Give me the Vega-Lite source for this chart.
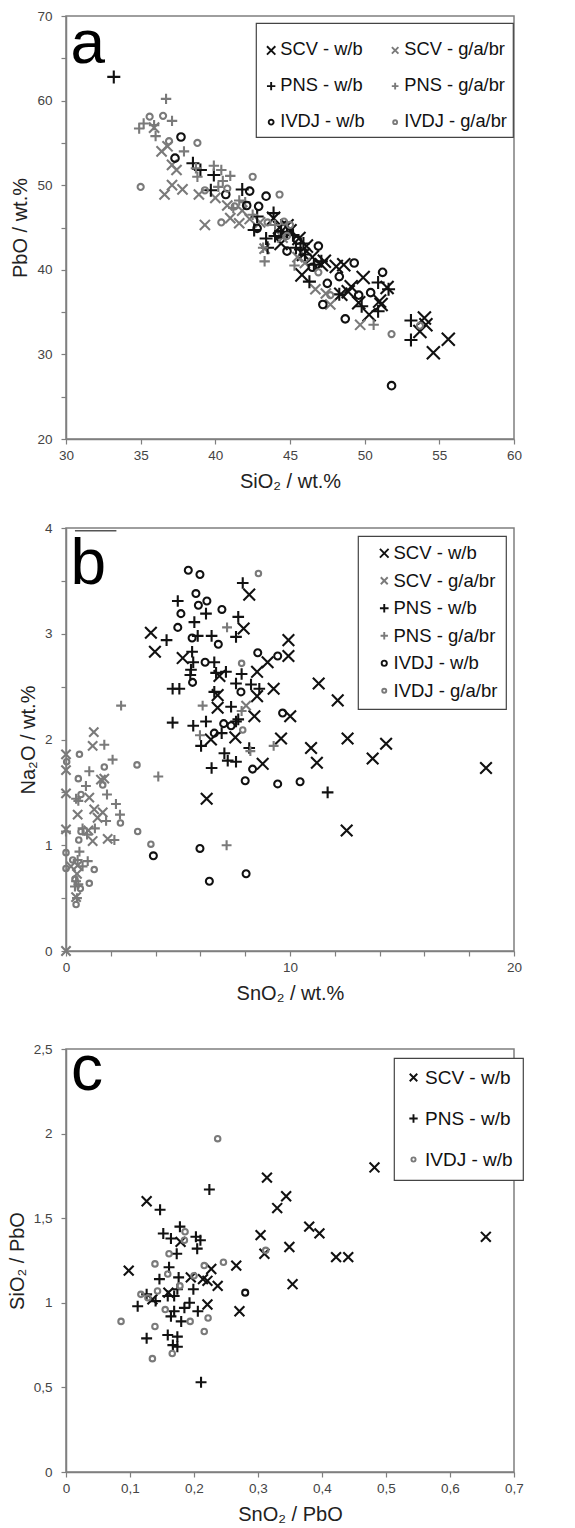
{
  "$schema": "https://vega.github.io/schema/vega-lite/v6.json",
  "padding": {"left": 6, "top": 8, "right": 5, "bottom": 5},
  "background": "white",
  "config": {
    "font": "Liberation Sans",
    "view": {"stroke": "#7f7f7f", "strokeWidth": 1.5},
    "axis": {"domainColor": "#7f7f7f", "domainWidth": 1.5, "tickColor": "#7f7f7f", "tickWidth": 1.2, "tickSize": 5, "labelFont": "Liberation Sans", "labelFontSize": 13.5, "labelColor": "#444", "titleFont": "Liberation Sans", "titleFontSize": 20, "titleFontWeight": "normal", "titleColor": "#222", "grid": false, "labelFlush": false, "labelOverlap": false, "labelBound": false},
    "axisX": {"labelPadding": 4, "titlePadding": 10},
    "axisY": {"labelPadding": 9, "titlePadding": 6},
    "legend": {"strokeWidth": 1.2, "labelFont": "Liberation Sans", "labelColor": "#111", "symbolStrokeWidth": 1.9, "strokeColor": "#444", "fillColor": "#ffffff"}
  },
  "datasets": {
    "a": [
      {"series":"SCV - w/b","SiO2":55.6,"PbO":31.8},{"series":"SCV - w/b","SiO2":54.6,"PbO":30.2},{"series":"SCV - w/b","SiO2":54.0,"PbO":34.3},{"series":"SCV - w/b","SiO2":53.7,"PbO":32.7},{"series":"SCV - w/b","SiO2":54.1,"PbO":33.5},{"series":"SCV - w/b","SiO2":51.5,"PbO":37.9},{"series":"SCV - w/b","SiO2":51.0,"PbO":36.3},{"series":"SCV - w/b","SiO2":51.1,"PbO":35.9},{"series":"SCV - w/b","SiO2":50.3,"PbO":34.7},{"series":"SCV - w/b","SiO2":49.9,"PbO":39.1},{"series":"SCV - w/b","SiO2":49.6,"PbO":36.1},{"series":"SCV - w/b","SiO2":49.1,"PbO":38.0},{"series":"SCV - w/b","SiO2":48.9,"PbO":37.4},{"series":"SCV - w/b","SiO2":48.6,"PbO":40.6},{"series":"SCV - w/b","SiO2":48.1,"PbO":40.4},{"series":"SCV - w/b","SiO2":48.4,"PbO":37.1},{"series":"SCV - w/b","SiO2":47.1,"PbO":40.6},{"series":"SCV - w/b","SiO2":45.8,"PbO":39.4},{"series":"SCV - w/b","SiO2":46.1,"PbO":42.8},{"series":"SCV - w/b","SiO2":45.6,"PbO":43.7},{"series":"SCV - w/b","SiO2":44.4,"PbO":43.1},{"series":"SCV - w/b","SiO2":43.9,"PbO":46.1},{"series":"SCV - w/b","SiO2":44.3,"PbO":45.0},{"series":"SCV - w/b","SiO2":45.0,"PbO":44.6},{"series":"SCV - w/b","SiO2":46.5,"PbO":41.5},{"series":"SCV - w/b","SiO2":47.3,"PbO":41.0},{"series":"SCV - w/b","SiO2":44.8,"PbO":45.2},{"series":"SCV - w/b","SiO2":45.9,"PbO":41.8},
      {"series":"SCV - g/a/br","SiO2":49.7,"PbO":33.5},{"series":"SCV - g/a/br","SiO2":47.7,"PbO":35.9},{"series":"SCV - g/a/br","SiO2":47.4,"PbO":37.2},{"series":"SCV - g/a/br","SiO2":46.7,"PbO":37.7},{"series":"SCV - g/a/br","SiO2":39.3,"PbO":45.3},{"series":"SCV - g/a/br","SiO2":41.0,"PbO":46.1},{"series":"SCV - g/a/br","SiO2":41.6,"PbO":45.5},{"series":"SCV - g/a/br","SiO2":36.4,"PbO":54.0},{"series":"SCV - g/a/br","SiO2":37.4,"PbO":51.8},{"series":"SCV - g/a/br","SiO2":36.8,"PbO":54.6},{"series":"SCV - g/a/br","SiO2":37.1,"PbO":52.4},{"series":"SCV - g/a/br","SiO2":36.6,"PbO":48.9},{"series":"SCV - g/a/br","SiO2":37.1,"PbO":50.0},{"series":"SCV - g/a/br","SiO2":37.8,"PbO":49.5},{"series":"SCV - g/a/br","SiO2":38.9,"PbO":48.9},{"series":"SCV - g/a/br","SiO2":40.0,"PbO":48.5},{"series":"SCV - g/a/br","SiO2":42.3,"PbO":46.0},{"series":"SCV - g/a/br","SiO2":43.0,"PbO":45.6},{"series":"SCV - g/a/br","SiO2":43.3,"PbO":42.5},{"series":"SCV - g/a/br","SiO2":44.5,"PbO":43.8},{"series":"SCV - g/a/br","SiO2":45.5,"PbO":41.5},{"series":"SCV - g/a/br","SiO2":35.9,"PbO":56.8},{"series":"SCV - g/a/br","SiO2":41.8,"PbO":47.0},{"series":"SCV - g/a/br","SiO2":40.8,"PbO":47.6},{"series":"SCV - g/a/br","SiO2":46.0,"PbO":40.8},
      {"series":"PNS - w/b","SiO2":33.2,"PbO":62.8},{"series":"PNS - w/b","SiO2":53.1,"PbO":34.0},{"series":"PNS - w/b","SiO2":53.1,"PbO":31.7},{"series":"PNS - w/b","SiO2":51.6,"PbO":37.7},{"series":"PNS - w/b","SiO2":50.9,"PbO":38.5},{"series":"PNS - w/b","SiO2":50.9,"PbO":35.1},{"series":"PNS - w/b","SiO2":49.8,"PbO":35.7},{"series":"PNS - w/b","SiO2":48.3,"PbO":37.1},{"series":"PNS - w/b","SiO2":46.3,"PbO":38.6},{"series":"PNS - w/b","SiO2":47.1,"PbO":41.0},{"series":"PNS - w/b","SiO2":46.6,"PbO":40.6},{"series":"PNS - w/b","SiO2":43.5,"PbO":42.6},{"series":"PNS - w/b","SiO2":43.4,"PbO":43.7},{"series":"PNS - w/b","SiO2":42.6,"PbO":44.7},{"series":"PNS - w/b","SiO2":43.9,"PbO":46.7},{"series":"PNS - w/b","SiO2":44.4,"PbO":44.5},{"series":"PNS - w/b","SiO2":44.8,"PbO":44.3},{"series":"PNS - w/b","SiO2":45.2,"PbO":44.1},{"series":"PNS - w/b","SiO2":45.9,"PbO":43.1},{"series":"PNS - w/b","SiO2":45.4,"PbO":42.6},{"series":"PNS - w/b","SiO2":45.7,"PbO":42.4},{"series":"PNS - w/b","SiO2":38.5,"PbO":52.6},{"series":"PNS - w/b","SiO2":39.0,"PbO":51.8},{"series":"PNS - w/b","SiO2":39.9,"PbO":51.2},{"series":"PNS - w/b","SiO2":39.7,"PbO":49.4},{"series":"PNS - w/b","SiO2":41.8,"PbO":49.5},{"series":"PNS - w/b","SiO2":44.0,"PbO":44.0},{"series":"PNS - w/b","SiO2":46.0,"PbO":41.8},{"series":"PNS - w/b","SiO2":42.8,"PbO":46.3},
      {"series":"PNS - g/a/br","SiO2":36.7,"PbO":60.2},{"series":"PNS - g/a/br","SiO2":35.2,"PbO":57.3},{"series":"PNS - g/a/br","SiO2":34.9,"PbO":56.7},{"series":"PNS - g/a/br","SiO2":35.9,"PbO":57.1},{"series":"PNS - g/a/br","SiO2":36.0,"PbO":55.8},{"series":"PNS - g/a/br","SiO2":37.1,"PbO":57.6},{"series":"PNS - g/a/br","SiO2":37.9,"PbO":54.0},{"series":"PNS - g/a/br","SiO2":38.7,"PbO":52.0},{"series":"PNS - g/a/br","SiO2":38.8,"PbO":51.0},{"series":"PNS - g/a/br","SiO2":39.9,"PbO":52.3},{"series":"PNS - g/a/br","SiO2":40.4,"PbO":51.8},{"series":"PNS - g/a/br","SiO2":41.0,"PbO":51.1},{"series":"PNS - g/a/br","SiO2":41.2,"PbO":47.3},{"series":"PNS - g/a/br","SiO2":43.3,"PbO":41.0},{"series":"PNS - g/a/br","SiO2":43.2,"PbO":42.6},{"series":"PNS - g/a/br","SiO2":45.3,"PbO":40.5},{"series":"PNS - g/a/br","SiO2":50.6,"PbO":33.5},{"series":"PNS - g/a/br","SiO2":40.5,"PbO":50.5},{"series":"PNS - g/a/br","SiO2":42.0,"PbO":48.0},{"series":"PNS - g/a/br","SiO2":42.5,"PbO":46.5},{"series":"PNS - g/a/br","SiO2":41.6,"PbO":48.2},{"series":"PNS - g/a/br","SiO2":44.0,"PbO":45.3},{"series":"PNS - g/a/br","SiO2":40.2,"PbO":49.8},
      {"series":"IVDJ - w/b","SiO2":51.8,"PbO":26.3},{"series":"IVDJ - w/b","SiO2":51.2,"PbO":39.7},{"series":"IVDJ - w/b","SiO2":50.4,"PbO":37.3},{"series":"IVDJ - w/b","SiO2":49.6,"PbO":37.0},{"series":"IVDJ - w/b","SiO2":49.3,"PbO":40.8},{"series":"IVDJ - w/b","SiO2":48.7,"PbO":34.2},{"series":"IVDJ - w/b","SiO2":48.3,"PbO":39.2},{"series":"IVDJ - w/b","SiO2":47.2,"PbO":35.9},{"series":"IVDJ - w/b","SiO2":47.5,"PbO":38.4},{"series":"IVDJ - w/b","SiO2":46.9,"PbO":42.8},{"series":"IVDJ - w/b","SiO2":46.5,"PbO":40.3},{"series":"IVDJ - w/b","SiO2":44.8,"PbO":42.2},{"series":"IVDJ - w/b","SiO2":42.8,"PbO":44.9},{"series":"IVDJ - w/b","SiO2":42.9,"PbO":47.5},{"series":"IVDJ - w/b","SiO2":42.1,"PbO":47.6},{"series":"IVDJ - w/b","SiO2":37.7,"PbO":55.7},{"series":"IVDJ - w/b","SiO2":37.3,"PbO":53.2},{"series":"IVDJ - w/b","SiO2":42.3,"PbO":49.3},{"series":"IVDJ - w/b","SiO2":40.7,"PbO":48.9},{"series":"IVDJ - w/b","SiO2":43.4,"PbO":48.7},{"series":"IVDJ - w/b","SiO2":45.5,"PbO":43.5},{"series":"IVDJ - w/b","SiO2":44.2,"PbO":44.2},
      {"series":"IVDJ - g/a/br","SiO2":53.7,"PbO":33.4},{"series":"IVDJ - g/a/br","SiO2":51.8,"PbO":32.4},{"series":"IVDJ - g/a/br","SiO2":46.9,"PbO":39.7},{"series":"IVDJ - g/a/br","SiO2":40.4,"PbO":45.6},{"series":"IVDJ - g/a/br","SiO2":44.6,"PbO":45.7},{"series":"IVDJ - g/a/br","SiO2":35.6,"PbO":58.1},{"series":"IVDJ - g/a/br","SiO2":36.5,"PbO":58.2},{"series":"IVDJ - g/a/br","SiO2":36.9,"PbO":55.2},{"series":"IVDJ - g/a/br","SiO2":38.8,"PbO":55.0},{"series":"IVDJ - g/a/br","SiO2":35.0,"PbO":49.8},{"series":"IVDJ - g/a/br","SiO2":42.5,"PbO":51.0},{"series":"IVDJ - g/a/br","SiO2":39.3,"PbO":49.4},{"series":"IVDJ - g/a/br","SiO2":40.8,"PbO":49.6},{"series":"IVDJ - g/a/br","SiO2":44.3,"PbO":48.9},{"series":"IVDJ - g/a/br","SiO2":43.5,"PbO":45.6},{"series":"IVDJ - g/a/br","SiO2":45.0,"PbO":45.3},{"series":"IVDJ - g/a/br","SiO2":44.8,"PbO":44.0},{"series":"IVDJ - g/a/br","SiO2":41.3,"PbO":47.5},{"series":"IVDJ - g/a/br","SiO2":47.7,"PbO":37.0}
    ],
    "b": [
      {"series":"SCV - w/b","SnO2":8.18,"Na2O":3.37},{"series":"SCV - w/b","SnO2":7.93,"Na2O":3.05},{"series":"SCV - w/b","SnO2":3.79,"Na2O":3.01},{"series":"SCV - w/b","SnO2":3.97,"Na2O":2.83},{"series":"SCV - w/b","SnO2":9.93,"Na2O":2.94},{"series":"SCV - w/b","SnO2":9.93,"Na2O":2.79},{"series":"SCV - w/b","SnO2":9.0,"Na2O":2.73},{"series":"SCV - w/b","SnO2":5.21,"Na2O":2.77},{"series":"SCV - w/b","SnO2":8.53,"Na2O":2.64},{"series":"SCV - w/b","SnO2":6.85,"Na2O":2.6},{"series":"SCV - w/b","SnO2":9.27,"Na2O":2.48},{"series":"SCV - w/b","SnO2":8.53,"Na2O":2.41},{"series":"SCV - w/b","SnO2":6.77,"Na2O":2.42},{"series":"SCV - w/b","SnO2":11.28,"Na2O":2.53},{"series":"SCV - w/b","SnO2":12.13,"Na2O":2.37},{"series":"SCV - w/b","SnO2":6.77,"Na2O":2.3},{"series":"SCV - w/b","SnO2":10.01,"Na2O":2.22},{"series":"SCV - w/b","SnO2":8.41,"Na2O":2.22},{"series":"SCV - w/b","SnO2":6.47,"Na2O":2.0},{"series":"SCV - w/b","SnO2":7.56,"Na2O":2.02},{"series":"SCV - w/b","SnO2":9.6,"Na2O":2.01},{"series":"SCV - w/b","SnO2":12.57,"Na2O":2.01},{"series":"SCV - w/b","SnO2":14.29,"Na2O":1.96},{"series":"SCV - w/b","SnO2":10.94,"Na2O":1.92},{"series":"SCV - w/b","SnO2":18.75,"Na2O":1.73},{"series":"SCV - w/b","SnO2":13.69,"Na2O":1.82},{"series":"SCV - w/b","SnO2":11.2,"Na2O":1.78},{"series":"SCV - w/b","SnO2":8.78,"Na2O":1.77},{"series":"SCV - w/b","SnO2":6.28,"Na2O":1.44},{"series":"SCV - w/b","SnO2":12.53,"Na2O":1.14},
      {"series":"SCV - g/a/br","SnO2":8.04,"Na2O":2.32},{"series":"SCV - g/a/br","SnO2":1.24,"Na2O":2.07},{"series":"SCV - g/a/br","SnO2":1.19,"Na2O":1.94},{"series":"SCV - g/a/br","SnO2":1.56,"Na2O":1.62},{"series":"SCV - g/a/br","SnO2":1.71,"Na2O":1.63},{"series":"SCV - g/a/br","SnO2":1.41,"Na2O":1.26},{"series":"SCV - g/a/br","SnO2":1.26,"Na2O":1.34},{"series":"SCV - g/a/br","SnO2":1.19,"Na2O":1.04},{"series":"SCV - g/a/br","SnO2":1.04,"Na2O":1.45},{"series":"SCV - g/a/br","SnO2":0.52,"Na2O":1.29},{"series":"SCV - g/a/br","SnO2":1.0,"Na2O":1.14},{"series":"SCV - g/a/br","SnO2":1.86,"Na2O":1.06},{"series":"SCV - g/a/br","SnO2":0,"Na2O":1.86},{"series":"SCV - g/a/br","SnO2":0,"Na2O":1.71},{"series":"SCV - g/a/br","SnO2":0,"Na2O":1.49},{"series":"SCV - g/a/br","SnO2":0,"Na2O":1.15},{"series":"SCV - g/a/br","SnO2":0,"Na2O":0},{"series":"SCV - g/a/br","SnO2":0.52,"Na2O":0.81},{"series":"SCV - g/a/br","SnO2":0.22,"Na2O":0.8},{"series":"SCV - g/a/br","SnO2":0.49,"Na2O":0.73},{"series":"SCV - g/a/br","SnO2":0.45,"Na2O":0.51},{"series":"SCV - g/a/br","SnO2":1.64,"Na2O":1.31},
      {"series":"PNS - w/b","SnO2":7.89,"Na2O":3.48},{"series":"PNS - w/b","SnO2":4.99,"Na2O":3.31},{"series":"PNS - w/b","SnO2":6.25,"Na2O":3.19},{"series":"PNS - w/b","SnO2":7.69,"Na2O":3.16},{"series":"PNS - w/b","SnO2":5.73,"Na2O":3.11},{"series":"PNS - w/b","SnO2":4.49,"Na2O":2.94},{"series":"PNS - w/b","SnO2":5.88,"Na2O":2.98},{"series":"PNS - w/b","SnO2":6.5,"Na2O":2.98},{"series":"PNS - w/b","SnO2":7.59,"Na2O":2.97},{"series":"PNS - w/b","SnO2":5.63,"Na2O":2.83},{"series":"PNS - w/b","SnO2":6.62,"Na2O":2.73},{"series":"PNS - w/b","SnO2":5.68,"Na2O":2.73},{"series":"PNS - w/b","SnO2":5.58,"Na2O":2.66},{"series":"PNS - w/b","SnO2":5.55,"Na2O":2.61},{"series":"PNS - w/b","SnO2":6.7,"Na2O":2.63},{"series":"PNS - w/b","SnO2":7.14,"Na2O":2.64},{"series":"PNS - w/b","SnO2":7.84,"Na2O":2.62},{"series":"PNS - w/b","SnO2":4.76,"Na2O":2.48},{"series":"PNS - w/b","SnO2":5.06,"Na2O":2.48},{"series":"PNS - w/b","SnO2":6.62,"Na2O":2.45},{"series":"PNS - w/b","SnO2":7.59,"Na2O":2.53},{"series":"PNS - w/b","SnO2":8.26,"Na2O":2.52},{"series":"PNS - w/b","SnO2":8.63,"Na2O":2.48},{"series":"PNS - w/b","SnO2":7.37,"Na2O":2.31},{"series":"PNS - w/b","SnO2":4.76,"Na2O":2.16},{"series":"PNS - w/b","SnO2":5.68,"Na2O":2.13},{"series":"PNS - w/b","SnO2":6.25,"Na2O":2.17},{"series":"PNS - w/b","SnO2":7.59,"Na2O":2.17},{"series":"PNS - w/b","SnO2":7.69,"Na2O":2.19},{"series":"PNS - w/b","SnO2":6.95,"Na2O":2.06},{"series":"PNS - w/b","SnO2":8.18,"Na2O":1.92},{"series":"PNS - w/b","SnO2":6.03,"Na2O":1.94},{"series":"PNS - w/b","SnO2":7.59,"Na2O":1.79},{"series":"PNS - w/b","SnO2":7.22,"Na2O":1.8},{"series":"PNS - w/b","SnO2":7.07,"Na2O":1.87},{"series":"PNS - w/b","SnO2":6.5,"Na2O":1.73},{"series":"PNS - w/b","SnO2":11.68,"Na2O":1.5},
      {"series":"PNS - g/a/br","SnO2":7.19,"Na2O":3.06},{"series":"PNS - g/a/br","SnO2":6.1,"Na2O":2.32},{"series":"PNS - g/a/br","SnO2":7.84,"Na2O":2.27},{"series":"PNS - g/a/br","SnO2":2.46,"Na2O":2.32},{"series":"PNS - g/a/br","SnO2":5.98,"Na2O":2.04},{"series":"PNS - g/a/br","SnO2":9.27,"Na2O":1.94},{"series":"PNS - g/a/br","SnO2":1.71,"Na2O":1.95},{"series":"PNS - g/a/br","SnO2":8.23,"Na2O":1.89},{"series":"PNS - g/a/br","SnO2":7.17,"Na2O":1.0},{"series":"PNS - g/a/br","SnO2":4.12,"Na2O":1.65},{"series":"PNS - g/a/br","SnO2":2.41,"Na2O":1.29},{"series":"PNS - g/a/br","SnO2":2.23,"Na2O":1.39},{"series":"PNS - g/a/br","SnO2":2.16,"Na2O":1.05},{"series":"PNS - g/a/br","SnO2":2.08,"Na2O":1.81},{"series":"PNS - g/a/br","SnO2":1.83,"Na2O":1.48},{"series":"PNS - g/a/br","SnO2":1.79,"Na2O":1.23},{"series":"PNS - g/a/br","SnO2":1.29,"Na2O":1.16},{"series":"PNS - g/a/br","SnO2":1.04,"Na2O":1.7},{"series":"PNS - g/a/br","SnO2":0.89,"Na2O":1.56},{"series":"PNS - g/a/br","SnO2":0.55,"Na2O":1.42},{"series":"PNS - g/a/br","SnO2":0.45,"Na2O":1.44},{"series":"PNS - g/a/br","SnO2":0.74,"Na2O":1.16},{"series":"PNS - g/a/br","SnO2":0.94,"Na2O":1.1},{"series":"PNS - g/a/br","SnO2":0.6,"Na2O":0.94},{"series":"PNS - g/a/br","SnO2":0.52,"Na2O":0.86},{"series":"PNS - g/a/br","SnO2":0.97,"Na2O":0.85},{"series":"PNS - g/a/br","SnO2":0.74,"Na2O":0.8},{"series":"PNS - g/a/br","SnO2":0.45,"Na2O":0.66},{"series":"PNS - g/a/br","SnO2":0.55,"Na2O":0.63},{"series":"PNS - g/a/br","SnO2":0.49,"Na2O":0.5},{"series":"PNS - g/a/br","SnO2":0.4,"Na2O":0.61},{"series":"PNS - g/a/br","SnO2":0,"Na2O":1.13},
      {"series":"IVDJ - w/b","SnO2":5.46,"Na2O":3.6},{"series":"IVDJ - w/b","SnO2":5.98,"Na2O":3.56},{"series":"IVDJ - w/b","SnO2":5.8,"Na2O":3.38},{"series":"IVDJ - w/b","SnO2":5.91,"Na2O":3.27},{"series":"IVDJ - w/b","SnO2":6.29,"Na2O":3.31},{"series":"IVDJ - w/b","SnO2":5.13,"Na2O":3.19},{"series":"IVDJ - w/b","SnO2":6.96,"Na2O":3.23},{"series":"IVDJ - w/b","SnO2":4.99,"Na2O":3.06},{"series":"IVDJ - w/b","SnO2":6.8,"Na2O":2.9},{"series":"IVDJ - w/b","SnO2":5.63,"Na2O":2.96},{"series":"IVDJ - w/b","SnO2":9.45,"Na2O":2.79},{"series":"IVDJ - w/b","SnO2":8.56,"Na2O":2.82},{"series":"IVDJ - w/b","SnO2":6.21,"Na2O":2.73},{"series":"IVDJ - w/b","SnO2":5.65,"Na2O":2.54},{"series":"IVDJ - w/b","SnO2":7.81,"Na2O":2.45},{"series":"IVDJ - w/b","SnO2":9.67,"Na2O":2.25},{"series":"IVDJ - w/b","SnO2":7.04,"Na2O":2.15},{"series":"IVDJ - w/b","SnO2":7.37,"Na2O":2.13},{"series":"IVDJ - w/b","SnO2":6.62,"Na2O":2.06},{"series":"IVDJ - w/b","SnO2":8.33,"Na2O":1.72},{"series":"IVDJ - w/b","SnO2":8.0,"Na2O":1.61},{"series":"IVDJ - w/b","SnO2":9.45,"Na2O":1.58},{"series":"IVDJ - w/b","SnO2":10.45,"Na2O":1.6},{"series":"IVDJ - w/b","SnO2":5.98,"Na2O":0.97},{"series":"IVDJ - w/b","SnO2":3.9,"Na2O":0.9},{"series":"IVDJ - w/b","SnO2":6.4,"Na2O":0.66},{"series":"IVDJ - w/b","SnO2":8.04,"Na2O":0.73},
      {"series":"IVDJ - g/a/br","SnO2":8.59,"Na2O":3.57},{"series":"IVDJ - g/a/br","SnO2":7.84,"Na2O":2.72},{"series":"IVDJ - g/a/br","SnO2":7.89,"Na2O":2.09},{"series":"IVDJ - g/a/br","SnO2":3.79,"Na2O":1.01},{"series":"IVDJ - g/a/br","SnO2":3.2,"Na2O":1.13},{"series":"IVDJ - g/a/br","SnO2":3.17,"Na2O":1.76},{"series":"IVDJ - g/a/br","SnO2":2.43,"Na2O":1.21},{"series":"IVDJ - g/a/br","SnO2":1.71,"Na2O":1.74},{"series":"IVDJ - g/a/br","SnO2":1.64,"Na2O":1.57},{"series":"IVDJ - g/a/br","SnO2":0.6,"Na2O":1.86},{"series":"IVDJ - g/a/br","SnO2":0.55,"Na2O":1.63},{"series":"IVDJ - g/a/br","SnO2":0.67,"Na2O":1.48},{"series":"IVDJ - g/a/br","SnO2":0.67,"Na2O":1.13},{"series":"IVDJ - g/a/br","SnO2":0.57,"Na2O":1.05},{"series":"IVDJ - g/a/br","SnO2":0.03,"Na2O":1.79},{"series":"IVDJ - g/a/br","SnO2":0,"Na2O":0.93},{"series":"IVDJ - g/a/br","SnO2":0,"Na2O":0.78},{"series":"IVDJ - g/a/br","SnO2":0.3,"Na2O":0.86},{"series":"IVDJ - g/a/br","SnO2":1.26,"Na2O":0.77},{"series":"IVDJ - g/a/br","SnO2":0.4,"Na2O":0.68},{"series":"IVDJ - g/a/br","SnO2":1.04,"Na2O":0.64},{"series":"IVDJ - g/a/br","SnO2":0.45,"Na2O":0.44},{"series":"IVDJ - g/a/br","SnO2":0.64,"Na2O":0.59}
    ],
    "c": [
      {"series":"SCV - w/b","SnO2_PbO":0.482,"SiO2_PbO":1.8},{"series":"SCV - w/b","SnO2_PbO":0.314,"SiO2_PbO":1.74},{"series":"SCV - w/b","SnO2_PbO":0.344,"SiO2_PbO":1.63},{"series":"SCV - w/b","SnO2_PbO":0.33,"SiO2_PbO":1.56},{"series":"SCV - w/b","SnO2_PbO":0.126,"SiO2_PbO":1.6},{"series":"SCV - w/b","SnO2_PbO":0.656,"SiO2_PbO":1.39},{"series":"SCV - w/b","SnO2_PbO":0.38,"SiO2_PbO":1.45},{"series":"SCV - w/b","SnO2_PbO":0.396,"SiO2_PbO":1.41},{"series":"SCV - w/b","SnO2_PbO":0.304,"SiO2_PbO":1.4},{"series":"SCV - w/b","SnO2_PbO":0.31,"SiO2_PbO":1.29},{"series":"SCV - w/b","SnO2_PbO":0.349,"SiO2_PbO":1.33},{"series":"SCV - w/b","SnO2_PbO":0.422,"SiO2_PbO":1.27},{"series":"SCV - w/b","SnO2_PbO":0.441,"SiO2_PbO":1.27},{"series":"SCV - w/b","SnO2_PbO":0.179,"SiO2_PbO":1.36},{"series":"SCV - w/b","SnO2_PbO":0.098,"SiO2_PbO":1.19},{"series":"SCV - w/b","SnO2_PbO":0.266,"SiO2_PbO":1.22},{"series":"SCV - w/b","SnO2_PbO":0.227,"SiO2_PbO":1.2},{"series":"SCV - w/b","SnO2_PbO":0.195,"SiO2_PbO":1.15},{"series":"SCV - w/b","SnO2_PbO":0.214,"SiO2_PbO":1.14},{"series":"SCV - w/b","SnO2_PbO":0.237,"SiO2_PbO":1.1},{"series":"SCV - w/b","SnO2_PbO":0.221,"SiO2_PbO":1.13},{"series":"SCV - w/b","SnO2_PbO":0.354,"SiO2_PbO":1.11},{"series":"SCV - w/b","SnO2_PbO":0.271,"SiO2_PbO":0.95},{"series":"SCV - w/b","SnO2_PbO":0.221,"SiO2_PbO":0.99},{"series":"SCV - w/b","SnO2_PbO":0.16,"SiO2_PbO":1.06},{"series":"SCV - w/b","SnO2_PbO":0.135,"SiO2_PbO":1.02},
      {"series":"PNS - w/b","SnO2_PbO":0.224,"SiO2_PbO":1.67},{"series":"PNS - w/b","SnO2_PbO":0.147,"SiO2_PbO":1.55},{"series":"PNS - w/b","SnO2_PbO":0.178,"SiO2_PbO":1.45},{"series":"PNS - w/b","SnO2_PbO":0.152,"SiO2_PbO":1.41},{"series":"PNS - w/b","SnO2_PbO":0.164,"SiO2_PbO":1.38},{"series":"PNS - w/b","SnO2_PbO":0.203,"SiO2_PbO":1.39},{"series":"PNS - w/b","SnO2_PbO":0.21,"SiO2_PbO":1.37},{"series":"PNS - w/b","SnO2_PbO":0.205,"SiO2_PbO":1.32},{"series":"PNS - w/b","SnO2_PbO":0.173,"SiO2_PbO":1.29},{"series":"PNS - w/b","SnO2_PbO":0.161,"SiO2_PbO":1.21},{"series":"PNS - w/b","SnO2_PbO":0.146,"SiO2_PbO":1.14},{"series":"PNS - w/b","SnO2_PbO":0.176,"SiO2_PbO":1.15},{"series":"PNS - w/b","SnO2_PbO":0.199,"SiO2_PbO":1.08},{"series":"PNS - w/b","SnO2_PbO":0.206,"SiO2_PbO":0.95},{"series":"PNS - w/b","SnO2_PbO":0.193,"SiO2_PbO":1.0},{"series":"PNS - w/b","SnO2_PbO":0.185,"SiO2_PbO":0.97},{"series":"PNS - w/b","SnO2_PbO":0.18,"SiO2_PbO":0.89},{"series":"PNS - w/b","SnO2_PbO":0.169,"SiO2_PbO":0.95},{"series":"PNS - w/b","SnO2_PbO":0.164,"SiO2_PbO":0.92},{"series":"PNS - w/b","SnO2_PbO":0.159,"SiO2_PbO":1.04},{"series":"PNS - w/b","SnO2_PbO":0.169,"SiO2_PbO":1.04},{"series":"PNS - w/b","SnO2_PbO":0.174,"SiO2_PbO":1.08},{"series":"PNS - w/b","SnO2_PbO":0.14,"SiO2_PbO":1.01},{"series":"PNS - w/b","SnO2_PbO":0.126,"SiO2_PbO":1.05},{"series":"PNS - w/b","SnO2_PbO":0.112,"SiO2_PbO":0.98},{"series":"PNS - w/b","SnO2_PbO":0.126,"SiO2_PbO":0.79},{"series":"PNS - w/b","SnO2_PbO":0.159,"SiO2_PbO":0.81},{"series":"PNS - w/b","SnO2_PbO":0.174,"SiO2_PbO":0.8},{"series":"PNS - w/b","SnO2_PbO":0.167,"SiO2_PbO":0.75},{"series":"PNS - w/b","SnO2_PbO":0.174,"SiO2_PbO":0.74},{"series":"PNS - w/b","SnO2_PbO":0.211,"SiO2_PbO":0.53},
      {"series":"IVDJ - w/b","SnO2_PbO":0.237,"SiO2_PbO":1.97},{"series":"IVDJ - w/b","SnO2_PbO":0.186,"SiO2_PbO":1.42},{"series":"IVDJ - w/b","SnO2_PbO":0.185,"SiO2_PbO":1.37},{"series":"IVDJ - w/b","SnO2_PbO":0.161,"SiO2_PbO":1.29},{"series":"IVDJ - w/b","SnO2_PbO":0.139,"SiO2_PbO":1.23},{"series":"IVDJ - w/b","SnO2_PbO":0.246,"SiO2_PbO":1.24},{"series":"IVDJ - w/b","SnO2_PbO":0.216,"SiO2_PbO":1.22},{"series":"IVDJ - w/b","SnO2_PbO":0.312,"SiO2_PbO":1.31},{"series":"IVDJ - w/b","SnO2_PbO":0.159,"SiO2_PbO":1.17},{"series":"IVDJ - w/b","SnO2_PbO":0.222,"SiO2_PbO":0.91},{"series":"IVDJ - w/b","SnO2_PbO":0.216,"SiO2_PbO":0.83},{"series":"IVDJ - w/b","SnO2_PbO":0.194,"SiO2_PbO":0.89},{"series":"IVDJ - w/b","SnO2_PbO":0.155,"SiO2_PbO":0.96},{"series":"IVDJ - w/b","SnO2_PbO":0.117,"SiO2_PbO":1.05},{"series":"IVDJ - w/b","SnO2_PbO":0.128,"SiO2_PbO":1.03},{"series":"IVDJ - w/b","SnO2_PbO":0.143,"SiO2_PbO":1.07},{"series":"IVDJ - w/b","SnO2_PbO":0.086,"SiO2_PbO":0.89},{"series":"IVDJ - w/b","SnO2_PbO":0.139,"SiO2_PbO":0.86},{"series":"IVDJ - w/b","SnO2_PbO":0.166,"SiO2_PbO":0.7},{"series":"IVDJ - w/b","SnO2_PbO":0.135,"SiO2_PbO":0.67},{"series":"IVDJ - w/b","SnO2_PbO":0.2,"SiO2_PbO":1.16},{"series":"IVDJ - w/b","SnO2_PbO":0.178,"SiO2_PbO":1.1},
      {"series":"IVDJ - w/b (dark)","SnO2_PbO":0.28,"SiO2_PbO":1.06}
    ]
  },
  "vconcat": [
    {
      "vconcat": [
        {
          "width": 448, "height": 423,
          "layer": [
            {
              "data": {"name": "a"},
              "mark": {"type": "point", "filled": false, "opacity": 1, "strokeWidth": 2.1, "size": 170},
              "encoding": {
                "x": {"field": "SiO2", "type": "quantitative", "scale": {"domain": [30, 60], "nice": false, "zero": false}, "axis": {"title": "SiO₂ / wt.%", "values": [30,32.5,35,37.5,40,42.5,45,47.5,50,52.5,55,57.5,60], "labelExpr": "datum.value % 5 === 0 ? datum.label : ''"}},
                "y": {"field": "PbO", "type": "quantitative", "scale": {"domain": [20, 70], "nice": false, "zero": false}, "axis": {"title": "PbO / wt.%", "values": [20,25,30,35,40,45,50,55,60,65,70], "labelExpr": "datum.value % 10 === 0 ? datum.label : ''"}},
                "color": {"field": "series", "type": "nominal", "scale": {"domain": ["SCV - w/b","SCV - g/a/br","PNS - w/b","PNS - g/a/br","IVDJ - w/b","IVDJ - g/a/br"], "range": ["#111111","#7a7a7a","#111111","#7a7a7a","#111111","#7a7a7a"]},
                  "legend": {"title": " ", "titleFontSize": 12, "titlePadding": 0, "orient": "none", "legendX": 190, "legendY": 7, "direction": "horizontal", "columns": 2, "padding": 6, "rowPadding": 17, "columnPadding": 21, "labelFontSize": 18.3, "labelOffset": 0, "symbolSize": 70}},
                "shape": {"field": "series", "type": "nominal", "scale": {"domain": ["SCV - w/b","SCV - g/a/br","PNS - w/b","PNS - g/a/br","IVDJ - w/b","IVDJ - g/a/br"], "range": ["M-1,-1L1,1M-1,1L1,-1","M-0.78,-0.78L0.78,0.78M-0.78,0.78L0.78,-0.78","M-1,0L1,0M0,-1L0,1","M-0.8,0L0.8,0M0,-0.8L0,0.8","M0.58,0A0.58,0.58,0,1,1,-0.58,0A0.58,0.58,0,1,1,0.58,0Z","M0.47,0A0.47,0.47,0,1,1,-0.47,0A0.47,0.47,0,1,1,0.47,0Z"]},
                  "legend": {"title": " ", "titleFontSize": 12, "titlePadding": 0, "orient": "none", "legendX": 190, "legendY": 7, "direction": "horizontal", "columns": 2, "padding": 6, "rowPadding": 17, "columnPadding": 21, "labelFontSize": 18.3, "labelOffset": 0, "symbolSize": 70}}
              }
            },
            {
              "data": {"values": [{"panel": "a"}]},
              "mark": {"type": "text", "fontSize": 62, "align": "left", "baseline": "alphabetic", "font": "Liberation Sans", "color": "#000"},
              "encoding": {"x": {"datum": 30.3, "type": "quantitative"}, "y": {"datum": 64.5, "type": "quantitative"}, "text": {"field": "panel"}}
            }
          ]
        },
        {
          "width": 448, "height": 423,
          "layer": [
            {
              "data": {"name": "b"},
              "mark": {"type": "point", "filled": false, "opacity": 1, "strokeWidth": 2.1, "size": 135},
              "encoding": {
                "x": {"field": "SnO2", "type": "quantitative", "scale": {"domain": [0, 20], "nice": false, "zero": false}, "axis": {"title": "SnO₂ / wt.%", "values": [0,1,2,3,4,5,6,7,8,9,10,11,12,13,14,15,16,17,18,19,20], "labelExpr": "datum.value % 5 === 0 ? datum.label : ''"}},
                "y": {"field": "Na2O", "type": "quantitative", "scale": {"domain": [0, 4], "nice": false, "zero": false}, "axis": {"title": "Na₂O / wt.%", "values": [0,0.5,1,1.5,2,2.5,3,3.5,4], "labelExpr": "datum.value % 1 === 0 ? format(datum.value, '~g') : ''"}},
                "color": {"field": "series", "type": "nominal", "scale": {"domain": ["SCV - w/b","SCV - g/a/br","PNS - w/b","PNS - g/a/br","IVDJ - w/b","IVDJ - g/a/br"], "range": ["#111111","#7a7a7a","#111111","#7a7a7a","#111111","#7a7a7a"]},
                  "legend": {"title": null, "orient": "none", "legendX": 292, "legendY": 8, "padding": 8, "rowPadding": 8.5, "labelFontSize": 18.5, "labelOffset": 0, "symbolOffset": 9, "symbolSize": 75}},
                "shape": {"field": "series", "type": "nominal", "scale": {"domain": ["SCV - w/b","SCV - g/a/br","PNS - w/b","PNS - g/a/br","IVDJ - w/b","IVDJ - g/a/br"], "range": ["M-1,-1L1,1M-1,1L1,-1","M-0.8,-0.8L0.8,0.8M-0.8,0.8L0.8,-0.8","M-1,0L1,0M0,-1L0,1","M-0.85,0L0.85,0M0,-0.85L0,0.85","M0.6,0A0.6,0.6,0,1,1,-0.6,0A0.6,0.6,0,1,1,0.6,0Z","M0.47,0A0.47,0.47,0,1,1,-0.47,0A0.47,0.47,0,1,1,0.47,0Z"]},
                  "legend": {"title": null, "orient": "none", "legendX": 292, "legendY": 8, "padding": 8, "rowPadding": 8.5, "labelFontSize": 18.5, "labelOffset": 0, "symbolOffset": 9, "symbolSize": 75}}
              }
            },
            {
              "data": {"values": [{"panel": "b"}]},
              "mark": {"type": "text", "fontSize": 64, "align": "left", "baseline": "alphabetic", "font": "Liberation Sans", "color": "#000"},
              "encoding": {"x": {"datum": 0.2, "type": "quantitative"}, "y": {"datum": 3.47, "type": "quantitative"}, "text": {"field": "panel"}}
            },
            {
              "data": {"values": [{"panel": "b"}]},
              "mark": {"type": "rule", "color": "#555", "strokeWidth": 1.5},
              "encoding": {"x": {"datum": 0.4, "type": "quantitative"}, "x2": {"datum": 2.25}, "y": {"datum": 3.975, "type": "quantitative"}}
            }
          ]
        }
      ],
      "spacing": 27,
      "resolve": {"scale": {"color": "independent", "shape": "independent"}}
    },
    {
      "width": 448, "height": 423,
      "layer": [
        {
          "data": {"name": "c"},
          "mark": {"type": "point", "filled": false, "opacity": 1, "strokeWidth": 2.1, "size": 120},
          "encoding": {
            "x": {"field": "SnO2_PbO", "type": "quantitative", "scale": {"domain": [0, 0.7], "nice": false, "zero": false}, "axis": {"title": "SnO₂ / PbO", "values": [0,0.05,0.1,0.15,0.2,0.25,0.3,0.35,0.4,0.45,0.5,0.55,0.6,0.65,0.7], "labelExpr": "abs(datum.value*10 - round(datum.value*10)) < 1e-6 ? replace(format(datum.value, '.1~f'), '.', ',') : ''"}},
            "y": {"field": "SiO2_PbO", "type": "quantitative", "scale": {"domain": [0, 2.5], "nice": false, "zero": false}, "axis": {"title": "SiO₂ / PbO", "values": [0,0.5,1,1.5,2,2.5], "labelExpr": "replace(format(datum.value, '.1~f'), '.', ',')"}},
            "color": {"field": "series", "type": "nominal", "scale": {"domain": ["SCV - w/b","PNS - w/b","IVDJ - w/b","IVDJ - w/b (dark)"], "range": ["#111111","#111111","#7a7a7a","#111111"]},
              "legend": {"title": null, "orient": "none", "legendX": 328, "legendY": 9, "padding": 10, "rowPadding": 21, "labelFontSize": 19, "labelOffset": 2, "symbolOffset": 0, "symbolSize": 70, "values": ["SCV - w/b","PNS - w/b","IVDJ - w/b"]}},
            "shape": {"field": "series", "type": "nominal", "scale": {"domain": ["SCV - w/b","PNS - w/b","IVDJ - w/b","IVDJ - w/b (dark)"], "range": ["M-0.9,-0.9L0.9,0.9M-0.9,0.9L0.9,-0.9","M-1,0L1,0M0,-1L0,1","M0.5,0A0.5,0.5,0,1,1,-0.5,0A0.5,0.5,0,1,1,0.5,0Z","M0.55,0A0.55,0.55,0,1,1,-0.55,0A0.55,0.55,0,1,1,0.55,0Z"]},
              "legend": {"title": null, "orient": "none", "legendX": 328, "legendY": 9, "padding": 10, "rowPadding": 21, "labelFontSize": 19, "labelOffset": 2, "symbolOffset": 0, "symbolSize": 70, "values": ["SCV - w/b","PNS - w/b","IVDJ - w/b"]}}
          }
        },
        {
          "data": {"values": [{"panel": "c"}]},
          "mark": {"type": "text", "fontSize": 64, "align": "left", "baseline": "alphabetic", "font": "Liberation Sans", "color": "#000"},
          "encoding": {"x": {"datum": 0.008, "type": "quantitative"}, "y": {"datum": 2.26, "type": "quantitative"}, "text": {"field": "panel"}}
        }
      ]
    }
  ],
  "spacing": 32,
  "resolve": {"scale": {"color": "independent", "shape": "independent"}}
}
